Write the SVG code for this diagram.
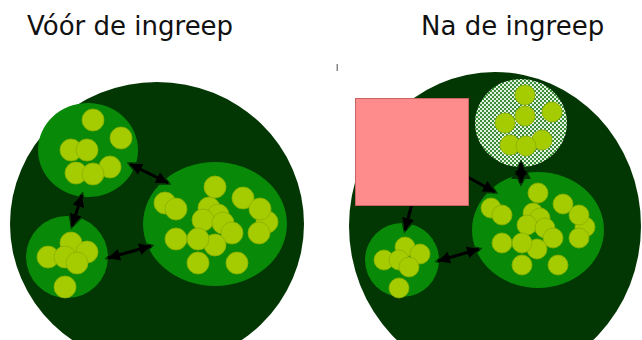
<svg xmlns="http://www.w3.org/2000/svg" width="642" height="340" viewBox="0 0 642 340">
<defs>
<style>
.title{font-family:"DejaVu Sans","Verdana",sans-serif;font-size:26px;fill:#111}
.bg{fill:#023602}
.cl{fill:#088a08}
.c{fill:#a4cc00;stroke:#8aae00;stroke-width:0.8}
.ar{fill:none;stroke:#000;stroke-width:3;marker-start:url(#ah);marker-end:url(#ah)}
.arE{fill:none;stroke:#000;stroke-width:3;marker-end:url(#ah)}
.halo{fill:none;stroke:none;marker-start:url(#hh);marker-end:url(#hh)}
.haloE{fill:none;stroke:none;marker-end:url(#hh)}
</style>
<marker id="ah" markerUnits="userSpaceOnUse" markerWidth="12" markerHeight="12" refX="10" refY="5" orient="auto-start-reverse" viewBox="0 0 10 10">
<path d="M0,0 L10,5 L0,10 z" fill="#000"/>
</marker>
<marker id="hh" markerUnits="userSpaceOnUse" markerWidth="20" markerHeight="20" refX="13" refY="8" orient="auto-start-reverse" viewBox="0 0 16 16">
<path d="M0,0 L16,8 L0,16 z" fill="#023602"/>
</marker>
<pattern id="chk" patternUnits="userSpaceOnUse" width="4" height="4">
<rect width="4" height="4" fill="#e4f2e2"/>
<rect width="2" height="2" fill="#3c8c3a"/>
<rect x="2" y="2" width="2" height="2" fill="#3c8c3a"/>
</pattern>
</defs>
<rect width="642" height="340" fill="#fff"/>
<text class="title" x="27" y="35">Vóór de ingreep</text>
<text class="title" x="421" y="35">Na de ingreep</text>
<rect x="336.5" y="64" width="1.5" height="7" fill="#888"/>

<g id="before">
<ellipse class="bg" cx="157" cy="224" rx="147" ry="142"/>
<g id="b-cluster-top">
<ellipse class="cl" cx="88" cy="150" rx="50" ry="47"/>
<circle class="c" cx="93" cy="120" r="11"/>
<circle class="c" cx="121" cy="138" r="11"/>
<circle class="c" cx="71" cy="150" r="11"/>
<circle class="c" cx="87" cy="150" r="11"/>
<circle class="c" cx="110" cy="167" r="11"/>
<circle class="c" cx="76" cy="173" r="11"/>
<circle class="c" cx="93" cy="174" r="11"/>
</g>
<g id="b-cluster-left">
<circle class="cl" cx="67" cy="257" r="41"/>
<circle class="c" cx="71" cy="243" r="11"/>
<circle class="c" cx="48" cy="257" r="11"/>
<circle class="c" cx="65" cy="257" r="11"/>
<circle class="c" cx="87" cy="252" r="11"/>
<circle class="c" cx="77" cy="263" r="11"/>
<circle class="c" cx="65" cy="287" r="11"/>
</g>
<g id="b-cluster-big">
<ellipse class="cl" cx="215" cy="224" rx="72" ry="62"/>
<circle class="c" cx="165" cy="203" r="11"/>
<circle class="c" cx="176" cy="209" r="11"/>
<circle class="c" cx="215" cy="187" r="11"/>
<circle class="c" cx="243" cy="198" r="11"/>
<circle class="c" cx="267" cy="222" r="11"/>
<circle class="c" cx="260" cy="209" r="11"/>
<circle class="c" cx="209" cy="208" r="11"/>
<circle class="c" cx="218" cy="215" r="11"/>
<circle class="c" cx="203" cy="220" r="11"/>
<circle class="c" cx="223" cy="223" r="11"/>
<circle class="c" cx="232" cy="233" r="11"/>
<circle class="c" cx="259" cy="233" r="11"/>
<circle class="c" cx="176" cy="239" r="11"/>
<circle class="c" cx="215" cy="245" r="11"/>
<circle class="c" cx="198" cy="239" r="11"/>
<circle class="c" cx="198" cy="263" r="11"/>
<circle class="c" cx="237" cy="263" r="11"/>
</g>
</g>

<g id="after">
<ellipse class="bg" cx="495" cy="226" rx="146" ry="154"/>
<g id="a-cluster-checkered">
<ellipse cx="521" cy="123" rx="46" ry="44" fill="url(#chk)"/>
<circle class="c" cx="525" cy="95" r="10"/>
<circle class="c" cx="552" cy="112" r="10"/>
<circle class="c" cx="505" cy="123" r="10"/>
<circle class="c" cx="525" cy="116" r="10"/>
<circle class="c" cx="542" cy="140" r="10"/>
<circle class="c" cx="510" cy="145" r="10"/>
<circle class="c" cx="526" cy="146" r="10"/>
</g>
<g id="a-cluster-left">
<circle class="cl" cx="402" cy="260" r="37"/>
<circle class="c" cx="405" cy="247" r="10"/>
<circle class="c" cx="384" cy="260" r="10"/>
<circle class="c" cx="399" cy="260" r="10"/>
<circle class="c" cx="420" cy="254" r="10"/>
<circle class="c" cx="409" cy="267" r="10"/>
<circle class="c" cx="399" cy="288" r="10"/>
</g>
<g id="a-cluster-big">
<ellipse class="cl" cx="538" cy="230" rx="66" ry="58"/>
<circle class="c" cx="538" cy="193" r="10"/>
<circle class="c" cx="563" cy="204" r="10"/>
<circle class="c" cx="585" cy="227" r="10"/>
<circle class="c" cx="579" cy="215" r="10"/>
<circle class="c" cx="491" cy="208" r="10"/>
<circle class="c" cx="502" cy="215" r="10"/>
<circle class="c" cx="533" cy="213" r="10"/>
<circle class="c" cx="540" cy="218" r="10"/>
<circle class="c" cx="527" cy="225" r="10"/>
<circle class="c" cx="545" cy="228" r="10"/>
<circle class="c" cx="553" cy="238" r="10"/>
<circle class="c" cx="579" cy="238" r="10"/>
<circle class="c" cx="502" cy="243" r="10"/>
<circle class="c" cx="537" cy="249" r="10"/>
<circle class="c" cx="522" cy="243" r="10"/>
<circle class="c" cx="522" cy="265" r="10"/>
<circle class="c" cx="558" cy="265" r="10"/>
</g>
</g>

<g id="connectors">
<path class="halo" d="M130,164 L168,183"/>
<path class="halo" d="M82,195 L72,226"/>
<path class="halo" d="M108,258 L151,246"/>
<path class="halo" d="M521,163 L521,183"/>
<path class="haloE" d="M462,174 L495,192"/>
<path class="haloE" d="M413,200 L405,230"/>
<path class="halo" d="M438,261 L479,249"/>
<path class="ar" d="M130,164 L168,183"/>
<path class="ar" d="M82,195 L72,226"/>
<path class="ar" d="M108,258 L151,246"/>
<path class="ar" d="M521,163 L521,183"/>
<path class="arE" d="M462,174 L495,192"/>
<path class="arE" d="M413,200 L405,230"/>
<path class="ar" d="M438,261 L479,249"/>
</g>

<g id="blocker">
<rect x="355.5" y="98.5" width="113" height="107" fill="#ff8c8c" stroke="#c86464" stroke-width="1"/>
</g>
</svg>
